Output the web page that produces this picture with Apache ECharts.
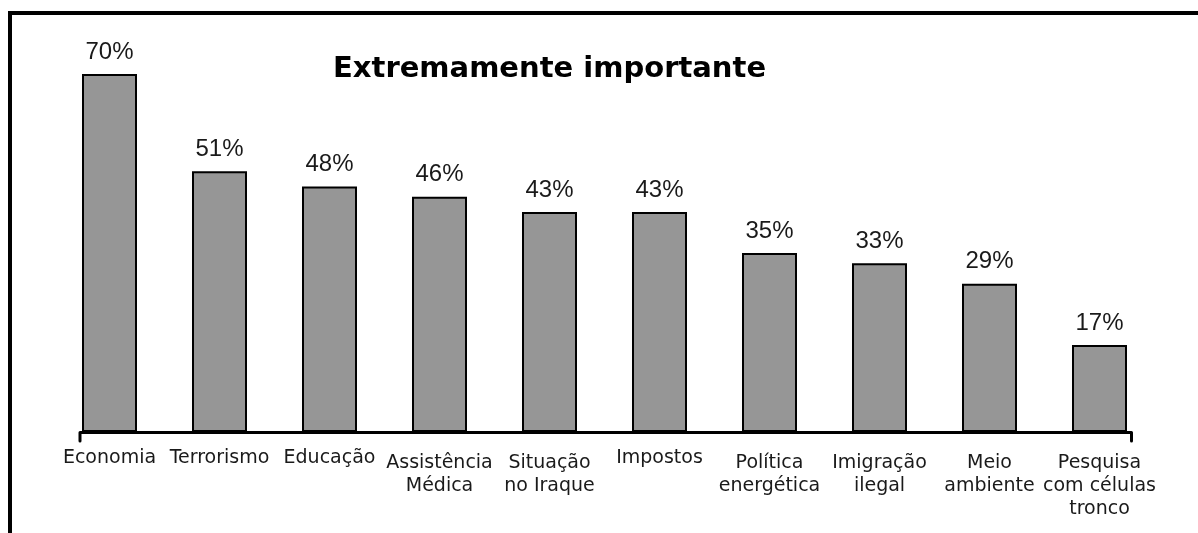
<!DOCTYPE html>
<html>
<head>
<meta charset="utf-8">
<script src="https://cdn.jsdelivr.net/npm/echarts@6/dist/echarts.min.js"></script>
<style>
  html, body { margin: 0; padding: 0; background: #fff; }
  #chart { width: 1198px; height: 533px; }
</style>
</head>
<body>
<div id="chart"></div>
<script>
// Issues rated "extremely important" (share of respondents, %)
const categories = [
  'Economia',
  'Terrorismo',
  'Educação',
  'Assistência\nMédica',
  'Situação\nno Iraque',
  'Impostos',
  'Política\nenergética',
  'Imigração\nilegal',
  'Meio\nambiente',
  'Pesquisa\ncom células\ntronco'
];
const values = [70, 51, 48, 46, 43, 43, 35, 33, 29, 17];
const titleText = 'Extremamente importante';

const chart = echarts.init(document.getElementById('chart'), null, { renderer: 'canvas' });

// multi-line labels sit a little lower than the single-line ones
const axisData = categories.map(name => (
  name.indexOf('\n') >= 0
    ? { value: name, textStyle: { padding: [5, 0, 0, 0] } }
    : { value: name }
));

chart.setOption({
  animation: false,
  backgroundColor: '#ffffff',
  grid: { left: 54.5, width: 1100, top: 74, bottom: 101, containLabel: false },
  xAxis: {
    type: 'category',
    data: axisData,
    axisLine: { show: false },
    axisTick: { show: false },
    splitLine: { show: false },
    axisLabel: {
      interval: 0,
      margin: 15,
      fontFamily: 'DejaVu Sans',
      fontSize: 19,
      lineHeight: 23,
      color: '#1a1a1a',
      verticalAlign: 'top'
    }
  },
  yAxis: {
    type: 'value',
    min: 0,
    max: 70,
    show: false,
    splitLine: { show: false }
  },
  series: [{
    type: 'bar',
    data: values,
    barWidth: 55,
    itemStyle: { color: '#969696', borderColor: '#000', borderWidth: 2 },
    label: {
      show: true,
      position: 'top',
      distance: 10,
      formatter: p => p.value + '%',
      fontFamily: 'Liberation Sans',
      fontSize: 24,
      color: '#1a1a1a'
    }
  }],
  graphic: [
    // frame along the left and top edges
    {
      type: 'polyline',
      silent: true,
      shape: { points: [[10, 533], [10, 13], [1198, 13]] },
      style: { stroke: '#000', lineWidth: 4, fill: null }
    },
    // baseline with end ticks
    {
      type: 'polyline',
      silent: true,
      z: 10,
      shape: { points: [[80, 441], [80, 432.5], [1131.5, 432.5], [1131.5, 441]] },
      style: { stroke: '#000', lineWidth: 3, fill: null, lineCap: 'round', lineJoin: 'round' }
    },
    {
      type: 'text',
      left: 333,
      top: 55,
      style: {
        text: titleText,
        fontFamily: 'DejaVu Sans',
        fontWeight: 'bold',
        fontSize: 29,
        fill: '#000'
      }
    }
  ]
});
</script>
</body>
</html>
